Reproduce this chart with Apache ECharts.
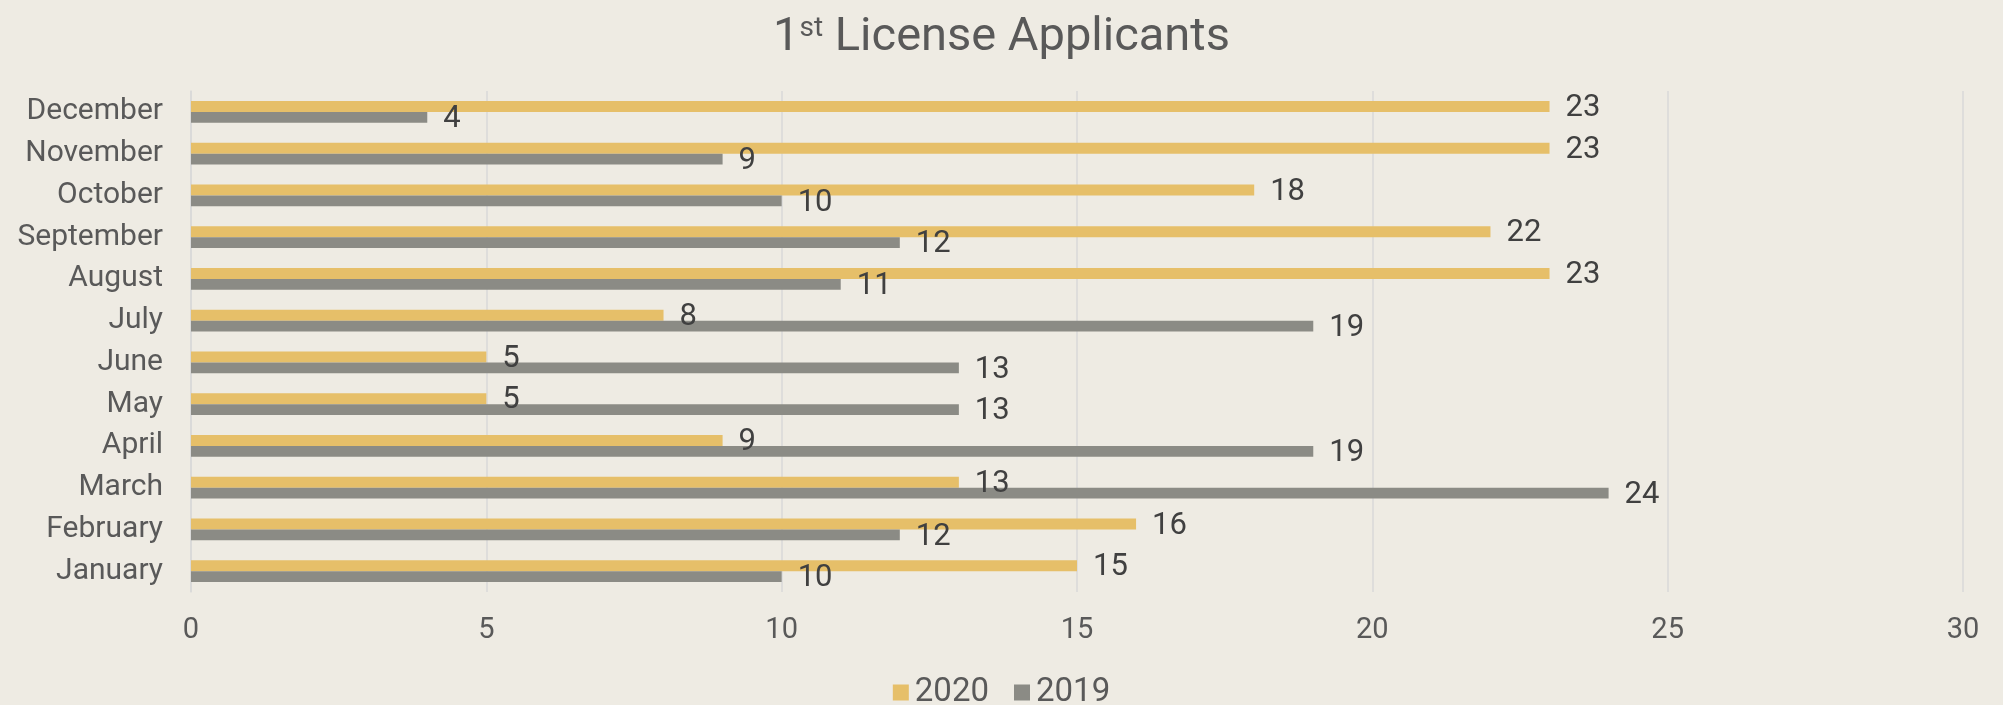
<!DOCTYPE html>
<html>
<head>
<meta charset="utf-8">
<title>1st License Applicants</title>
<script src="https://cdn.jsdelivr.net/npm/echarts@6/dist/echarts.min.js"></script>
<style>
    html, body { margin: 0; padding: 0; background: #EEEBE3; }
    #chart { width: 2003px; height: 705px; }
</style>
</head>
<body>
<div id="chart"></div>
<script>
// months, bottom to top
const months = ['January', 'February', 'March', 'April', 'May', 'June',
    'July', 'August', 'September', 'October', 'November', 'December'];
const apps2020 = [15, 16, 13, 9, 5, 5, 8, 23, 22, 18, 23, 23];
const apps2019 = [10, 12, 24, 19, 13, 13, 19, 11, 12, 10, 9, 4];
const xTicks = [0, 5, 10, 15, 20, 25, 30];

const font = 'Roboto, "Liberation Sans", sans-serif';

const myChart = echarts.init(document.getElementById('chart'));

function labelStyle() {
    return {
        show: true,
        position: 'right',
        distance: 16,
        color: '#404040',
        fontSize: 31,
        fontFamily: font,
        offset: [0, 2]
    };
}

const option = {
    backgroundColor: '#EEEBE3',
    animation: false,
    title: {
        text: '1{sup|st} License Applicants',
        left: 'center',
        top: 10,
        textStyle: {
            color: '#595959',
            fontSize: 47,
            fontWeight: 'normal',
            fontFamily: font,
            rich: {
                sup: {
                    fontSize: 28,
                    color: '#595959',
                    fontFamily: font,
                    verticalAlign: 'top',
                    padding: [0, 0, 18, 0]
                }
            }
        }
    },
    legend: {
        bottom: -9,
        left: 'center',
        icon: 'rect',
        itemWidth: 16,
        itemHeight: 16,
        itemGap: 25,
        textStyle: {
            color: '#595959',
            fontSize: 33,
            fontFamily: font,
            padding: [0, 0, 0, 1]
        }
    },
    grid: {
        left: 191,
        right: 40,
        top: 91,
        bottom: 113
    },
    xAxis: {
        type: 'value',
        min: xTicks[0],
        max: xTicks[xTicks.length - 1],
        interval: 5,
        axisLine: { show: false },
        axisTick: { show: false },
        splitLine: { lineStyle: { color: '#D9D9D9', width: 1.5 } },
        axisLabel: {
            color: '#595959',
            fontSize: 29,
            fontFamily: font,
            margin: 24
        }
    },
    yAxis: {
        type: 'category',
        data: months,
        axisLine: { lineStyle: { color: '#D9D9D9', width: 1.5 } },
        axisTick: { show: false },
        axisLabel: {
            color: '#595959',
            fontSize: 30,
            fontFamily: font,
            margin: 28
        }
    },
    series: [
        {
            name: '2020',
            type: 'bar',
            data: apps2020,
            barWidth: 10.8,
            barGap: '0%',
            barCategoryGap: '48%',
            itemStyle: { color: '#E6BF69' },
            label: labelStyle()
        },
        {
            name: '2019',
            type: 'bar',
            data: apps2019,
            barWidth: 10.8,
            barGap: '0%',
            barCategoryGap: '48%',
            itemStyle: { color: '#8B8B85' },
            label: labelStyle()
        }
    ]
};

myChart.setOption(option);
</script>
</body>
</html>
